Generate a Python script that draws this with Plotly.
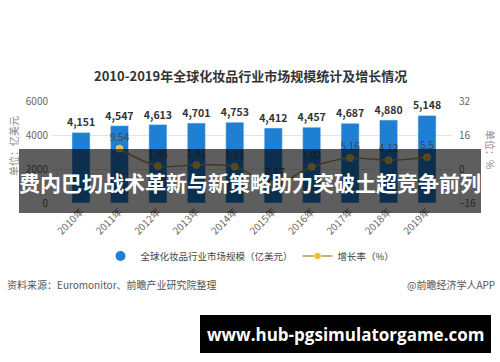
import plotly.graph_objects as go

years = ["2010年", "2011年", "2012年", "2013年", "2014年", "2015年", "2016年", "2017年", "2018年", "2019年"]
market_size = [4151, 4547, 4613, 4701, 4753, 4412, 4457, 4687, 4880, 5148]
growth_rate = [None, 9.54, 1.45, 1.91, 1.11, -7.17, 1.02, 5.16, 4.12, 5.5]
left_ticks = [0, 2000, 4000, 6000]
right_ticks = [-16, 0, 16, 32]

title_text = "2010-2019年全球化妆品行业市场规模统计及增长情况"
bar_name = "全球化妆品行业市场规模（亿美元）"
line_name = "增长率（%）"
source_text = "资料来源：Euromonitor、前瞻产业研究院整理"
brand_text = "@前瞻经济学人APP"
banner_text = "费内巴切战术革新与新策略助力突破土超竞争前列"
site_text = "www.hub-pgsimulatorgame.com"

W, H = 500, 362
PL, PR, PT, PB = 52, 452, 101, 203  # plot area in pixels

def px(x):
    return (x - PL) / (PR - PL)

def py(y):
    return (PB - y) / (PB - PT)

FONT = "Noto Sans CJK SC"
BAR_C = "#1f7fd2"
LINE_C = "#b39550"
MARK_C = "#f2be2e"

fig = go.Figure()
fig.add_trace(go.Bar(
    x=years, y=market_size, name=bar_name, marker_color=BAR_C, width=0.47,
    texttemplate="%{y:,}", textposition="outside", cliponaxis=False, constraintext="none",
    textfont=dict(family=FONT, size=10.5, color="#333333", weight="bold"),
    showlegend=False,
))
fig.add_trace(go.Scatter(
    x=[None], y=[None], mode="markers", name=bar_name,
    marker=dict(symbol="circle", size=10, color=BAR_C), showlegend=True,
))
fig.add_trace(go.Scatter(
    x=years, y=growth_rate, yaxis="y2", name=line_name, mode="lines+markers+text",
    line=dict(color=LINE_C, width=1.5, shape="spline"),
    marker=dict(size=7, color=MARK_C, line=dict(color="white", width=0.5)),
    text=[("" if v is None else f"{v:g}") for v in growth_rate],
    textposition="top center", cliponaxis=False,
    textfont=dict(family=FONT, size=10, color="#444444"),
    connectgaps=False,
))

fig.update_layout(
    width=W, height=H,
    margin=dict(l=PL, r=W - PR, t=PT, b=H - PB, pad=0, autoexpand=False),
    paper_bgcolor="white", plot_bgcolor="white",
    font=dict(family=FONT, size=10, color="#666666"),
    xaxis=dict(type="category", range=[-0.755, 9.65], tickangle=-45, showgrid=False,
               showline=False, ticks="", tickfont=dict(size=10, color="#666666"),
               automargin=False),
    yaxis=dict(range=[0, 6000], tickvals=left_ticks, showgrid=True, gridcolor="#e3e3e3",
               zeroline=False, showline=False, tickfont=dict(size=10, color="#666666"),
               ticklabelstandoff=3, automargin=False),
    yaxis2=dict(range=[-16, 32], tickvals=right_ticks, overlaying="y", side="right",
                showgrid=False, zeroline=False, showline=False,
                tickfont=dict(size=10, color="#666666"), ticklabelstandoff=6,
                automargin=False),
    legend=dict(orientation="h", x=px(250), xanchor="center", xref="paper",
                y=py(256), yref="paper", yanchor="middle", itemwidth=30,
                font=dict(size=9.5, color="#444444")),
    bargap=0.5,
)

annotations = [
    dict(text=title_text, x=px(250), y=py(75),
         font=dict(family=FONT, size=13, color="#333333", weight="bold")),
    dict(text="单位：亿美元", x=px(13), y=py(146), textangle=-90,
         font=dict(size=10, color="#888888")),
    dict(text="单位：%", x=px(491), y=py(150), textangle=90,
         font=dict(size=10, color="#888888")),
    dict(text=source_text, x=px(5), y=py(284), xanchor="left",
         font=dict(size=10, color="#555555")),
    dict(text=brand_text, x=px(497), y=py(284), xanchor="right",
         font=dict(size=10, color="#555555")),
    dict(text=banner_text, x=px(250), y=py(182),
         font=dict(size=21, color="white", weight="bold")),
    dict(text=site_text, x=px(345.5), y=py(334),
         font=dict(family="Open Sans", size=17, color="white", weight="bold")),
]
for a in annotations:
    a.setdefault("xanchor", "center")
    a.update(xref="paper", yref="paper", yanchor="middle", showarrow=False)
fig.update_layout(annotations=annotations)

fig.add_shape(type="rect", xref="paper", yref="paper", x0=px(19), x1=px(481),
              y0=py(213), y1=py(149), fillcolor="rgba(0,0,0,0.63)", line_width=0, layer="above")
fig.add_shape(type="rect", xref="paper", yref="paper", x0=px(200), x1=px(491),
              y0=py(353), y1=py(315), fillcolor="black", line_width=0, layer="above")

fig.write_html("out.html")
